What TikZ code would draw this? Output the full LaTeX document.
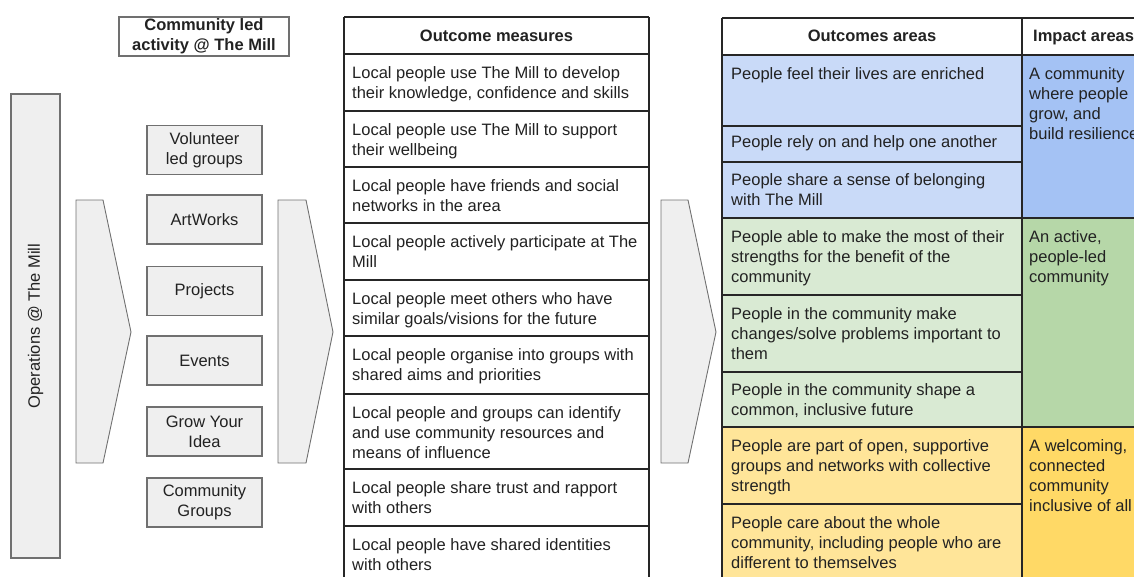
\documentclass[tikz,border=0pt]{standalone}
\usepackage{fontspec}
\setmainfont{Liberation Sans}
\definecolor{boxfill}{HTML}{EFEFEF}
\definecolor{boxline}{HTML}{707070}
\definecolor{ink}{HTML}{222222}
\definecolor{bluelt}{HTML}{C9DAF8}
\definecolor{bluedk}{HTML}{A4C2F4}
\definecolor{greenlt}{HTML}{D9EAD3}
\definecolor{greendk}{HTML}{B6D7A8}
\definecolor{yellowlt}{HTML}{FFE599}
\definecolor{yellowdk}{HTML}{FFD966}
\begin{document}
\begin{tikzpicture}[x=1pt,y=-1pt,
  every node/.style={font=\fontsize{16.5}{20}\selectfont, text=ink, inner sep=0pt},
  greybox/.style={draw=boxline, fill=boxfill, line width=1.1pt},
  actbox/.style={greybox, minimum width=115pt, minimum height=49pt, align=center},
  chevron/.style={draw=boxline, fill=boxfill, line width=0.9pt, line join=miter},
  grid/.style={draw=black!85, line width=1.2pt},
  celltext/.style={anchor=north west, align=left},
  headtext/.style={anchor=base, font=\fontsize{16.5}{20}\selectfont\bfseries}
]
\path[use as bounding box] (0,0) rectangle (1134,576);
\clip (0,0) rectangle (1134,576);

% ---- left side: operations, activities and arrows ----
\node[draw=boxline, line width=1.1pt, minimum width=170pt, minimum height=39pt,
      align=center, font=\fontsize{16.5}{20}\selectfont\bfseries] (title) at (204,36.5)
      {Community led\\activity @ The Mill};

\node[greybox, minimum width=49pt, minimum height=464pt] (ops) at (35.5,326) {};
\node[rotate=90] (opslabel) at (ops.center) {Operations @ The Mill};

\draw[chevron] (76,200) -- (103,200) -- (131,332) -- (103,463) -- (76,463) -- cycle;
\draw[chevron] (278,200) -- (306,200) -- (333,332) -- (306,463) -- (278,463) -- cycle;
\draw[chevron] (661,200) -- (688,200) -- (716,332) -- (688,463) -- (661,463) -- cycle;

\node[actbox] (vol)  at (204.5,150)   {Volunteer\\led groups};
\node[actbox] (art)  at (204.5,219.5) {ArtWorks};
\node[actbox] (proj) at (204.5,291)   {Projects};
\node[actbox] (evt)  at (204.5,360.5) {Events};
\node[actbox] (grow) at (204.5,431.5) {Grow Your\\Idea};
\node[actbox] (cgrp) at (204.5,502.5) {Community\\Groups};

% ---- outcome measures table ----
\fill[white] (344,17) rectangle (649,590);
\foreach \y in {17,54,111,167,223,280,336,394,469,526}
  \draw[grid] (344,\y) -- (649,\y);
\draw[grid] (344,17) -- (344,590);
\draw[grid] (649,17) -- (649,590);
\node[headtext] (omhead) at (496.5,41) {Outcome measures};

\node[celltext] (m1) at (352,64)  {\strut Local people use The Mill to develop\\their knowledge, confidence and skills};
\node[celltext] (m2) at (352,121) {\strut Local people use The Mill to support\\their wellbeing};
\node[celltext] (m3) at (352,177) {\strut Local people have friends and social\\networks in the area};
\node[celltext] (m4) at (352,233) {\strut Local people actively participate at The\\Mill};
\node[celltext] (m5) at (352,290) {\strut Local people meet others who have\\similar goals/visions for the future};
\node[celltext] (m6) at (352,346) {\strut Local people organise into groups with\\shared aims and priorities};
\node[celltext] (m7) at (352,404) {\strut Local people and groups can identify\\and use community resources and\\means of influence};
\node[celltext] (m8) at (352,479) {\strut Local people share trust and rapport\\with others};
\node[celltext] (m9) at (352,536) {\strut Local people have shared identities\\with others};

% ---- outcomes and impact areas table ----
\fill[white]    (722,18)  rectangle (1140,55);
\fill[bluelt]   (722,55)  rectangle (1022,218);
\fill[bluedk]   (1022,55) rectangle (1140,218);
\fill[greenlt]  (722,218) rectangle (1022,427);
\fill[greendk]  (1022,218) rectangle (1140,427);
\fill[yellowlt] (722,427) rectangle (1022,590);
\fill[yellowdk] (1022,427) rectangle (1140,590);
\foreach \y in {18,55,218,427}
  \draw[grid] (722,\y) -- (1140,\y);
\foreach \y in {126,162,295,372,504}
  \draw[grid] (722,\y) -- (1022,\y);
\draw[grid] (722,18) -- (722,590);
\draw[grid] (1022,18) -- (1022,590);

\node[headtext] (oahead) at (872,41) {Outcomes areas};
\node[headtext, anchor=base west] (iahead) at (1033,41) {Impact areas};

\node[celltext] (a1) at (731,65)  {\strut People feel their lives are enriched};
\node[celltext] (a2) at (731,133) {\strut People rely on and help one another};
\node[celltext] (a3) at (731,171) {\strut People share a sense of belonging\\with The Mill};
\node[celltext] (a4) at (731,228) {\strut People able to make the most of their\\strengths for the benefit of the\\community};
\node[celltext] (a5) at (731,305) {\strut People in the community make\\changes/solve problems important to\\them};
\node[celltext] (a6) at (731,381) {\strut People in the community shape a\\common, inclusive future};
\node[celltext] (a7) at (731,437) {\strut People are part of open, supportive\\groups and networks with collective\\strength};
\node[celltext] (a8) at (731,514) {\strut People care about the whole\\community, including people who are\\different to themselves};

\node[celltext] (i1) at (1029,65)  {\strut A community\\where people\\grow, and\\build resilience};
\node[celltext] (i2) at (1029,228) {\strut An active,\\people-led\\community};
\node[celltext] (i3) at (1029,437) {\strut A welcoming,\\connected\\community\\inclusive of all};
\end{tikzpicture}
\end{document}
